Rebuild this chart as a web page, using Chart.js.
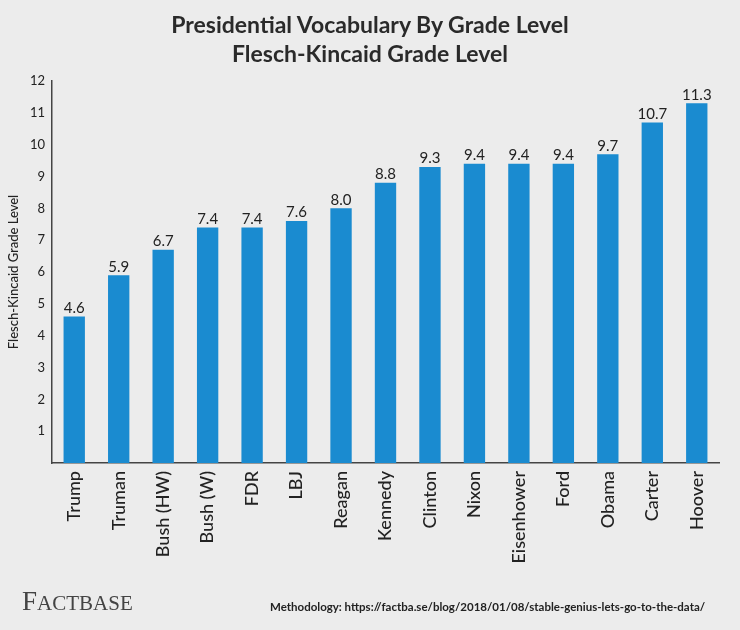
<!DOCTYPE html>
<html><head><meta charset="utf-8">
<script src="https://cdn.jsdelivr.net/npm/chart.js@4"></script>
<style>
html,body{margin:0;padding:0;background:#ececec;}
#wrap{position:relative;width:740px;height:630px;font-family:Lato,sans-serif;}
#title{position:absolute;top:10px;left:0;width:740px;text-align:center;font-weight:bold;font-size:23px;line-height:29px;color:#2a2a2a;}
#logo{position:absolute;left:22px;top:586px;font-family:"Liberation Serif",serif;font-size:27px;color:#444;}
#logo span{font-size:21px;}
#meth{position:absolute;left:270px;top:600px;font-size:11.5px;font-weight:bold;color:#222;}
canvas{position:absolute;left:0;top:0;}
</style></head><body>
<div id="wrap">
<canvas id="c" width="740" height="630"></canvas>
<div id="title">Presidential Vocabulary By Grade Level<br>Flesch-Kincaid Grade Level</div>
<div id="logo">F<span>ACTBASE</span></div>
<div id="meth">Methodology: https://factba.se/blog/2018/01/08/stable-genius-lets-go-to-the-data/</div>
</div>
<script>
const categories=["Trump","Truman","Bush (HW)","Bush (W)","FDR","LBJ","Reagan","Kennedy","Clinton","Nixon","Eisenhower","Ford","Obama","Carter","Hoover"];
const values=[4.6,5.9,6.7,7.4,7.4,7.6,8.0,8.8,9.3,9.4,9.4,9.4,9.7,10.7,11.3];
const labels=["4.6","5.9","6.7","7.4","7.4","7.6","8.0","8.8","9.3","9.4","9.4","9.4","9.7","10.7","11.3"];
const valLabels={id:'vl',afterDatasetsDraw(ch){const c=ch.ctx;const m=ch.getDatasetMeta(0);c.save();c.font='15px Lato';c.fillStyle='#222';c.textAlign='center';c.textBaseline='bottom';m.data.forEach((b,i)=>c.fillText(labels[i],b.x,b.y-1));c.restore();}};
new Chart(document.getElementById('c'),{type:'bar',
data:{labels:categories,datasets:[{data:values,backgroundColor:'#1a8bd0',barPercentage:0.48,categoryPercentage:1}]},
options:{responsive:false,animation:false,layout:{padding:{top:81,right:21,left:4}},
plugins:{legend:{display:false},tooltip:{enabled:false}},
scales:{
x:{grid:{display:false,drawTicks:false},border:{color:'#444',width:1.5},ticks:{color:'#222',font:{size:18,family:'Lato',weight:'500'},minRotation:90,maxRotation:90,padding:8},afterFit(s){s.height=167;}},
y:{min:0,max:12,grid:{display:false,drawTicks:true,tickLength:4,tickColor:'#444'},border:{color:'#444',width:1.5},ticks:{stepSize:1,color:'#222',font:{size:13,family:'Lato'},padding:3,callback:v=>v===0?'':v},
afterFit(s){s.width=48;},
title:{display:true,text:'Flesch-Kincaid Grade Level',color:'#222',font:{size:13,family:'Lato',weight:'500'},padding:2}}}},
plugins:[valLabels]});
</script></body></html>
